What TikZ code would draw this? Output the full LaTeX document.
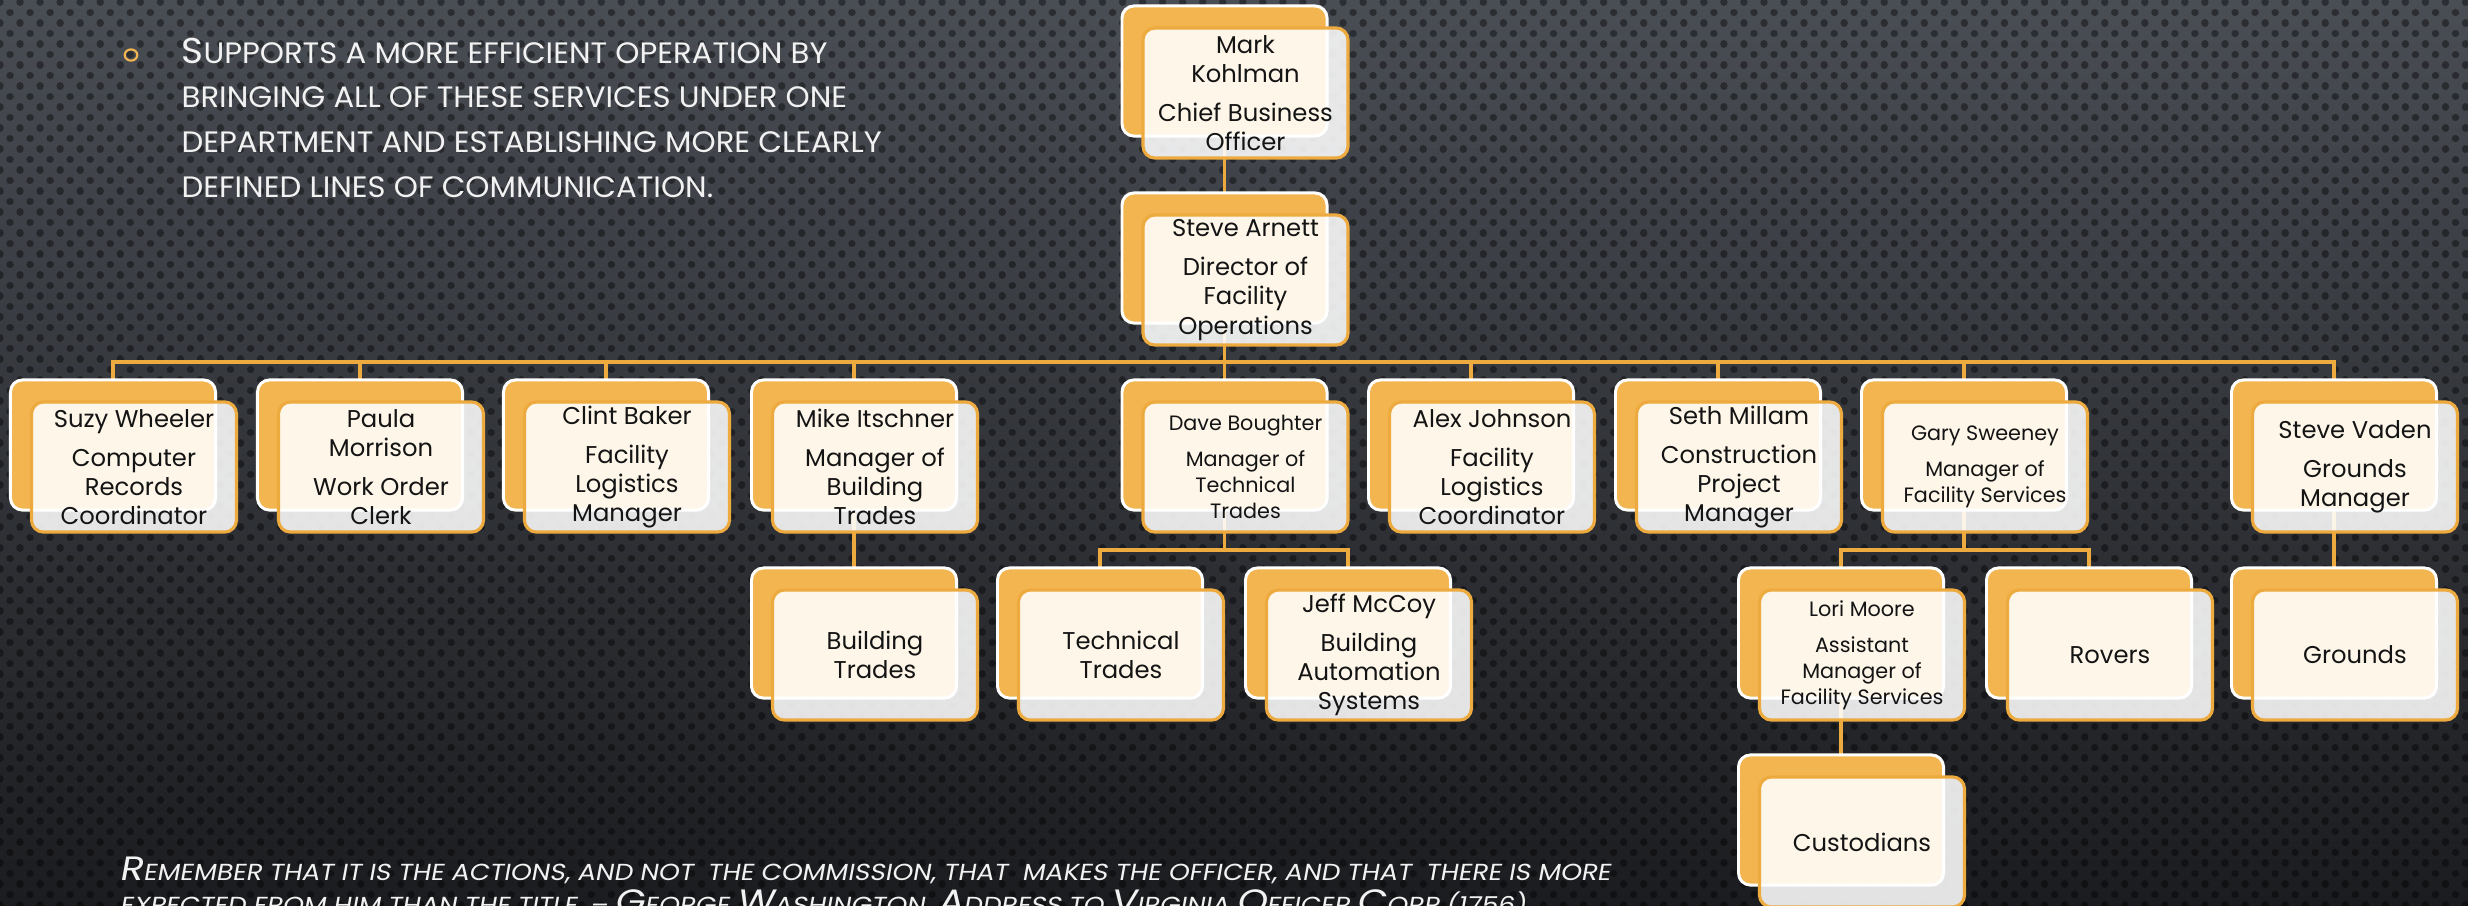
\documentclass[tikz,border=0pt]{standalone}
\usepackage{fontspec}
\setmainfont{Poppins}
\newfontfamily\quotefont[FakeSlant=0.18,FakeStretch=1.14]{Poppins}
\newfontfamily\topfont[FakeStretch=1.04]{Poppins}
\usetikzlibrary{calc,shapes.geometric}
\definecolor{org}{HTML}{F3B54F}
\definecolor{orgline}{HTML}{EDAA3E}
\definecolor{bgtop}{HTML}{494D54}
\definecolor{bgbot}{HTML}{1B1C1F}
\definecolor{txt}{HTML}{141414}
\pgfdeclarelayer{bg}\pgfdeclarelayer{edges}\pgfsetlayers{bg,edges,main}
\newcommand\gp{\\[2.8pt]}
\newcommand\tlB[1]{{\fontsize{10.2pt}{10pt}\selectfont #1}}
\newcommand\qB[1]{{\fontsize{9.6pt}{9pt}\selectfont #1}}
\newcommand\obox[5]{%
  \node[backbox] (#1-b) at (#2,#3) {};
  \node[frontbox,#4] (#1) at (#2+21,#3+22) {#5};
}
\tikzset{
  backbox/.style={draw=white, line width=0.85pt, fill=org, rounded corners=3.4pt,
    minimum width=58.3pt, minimum height=37pt, inner sep=0pt},
  frontbox/.style={draw=orgline, line width=0.9pt, fill=white, fill opacity=0.88,
    text opacity=1, text=txt, rounded corners=3.4pt, align=center,
    minimum width=58.3pt, minimum height=37pt, inner sep=0pt},
  nrm/.style={font=\fontsize{6.9pt}{8.3pt}\selectfont},
  sml/.style={font=\fontsize{5.9pt}{7.4pt}\selectfont},
  conn/.style={draw=orgline, line width=1.1pt},
  dotrow/.style={draw=black, draw opacity=0.4, line width=2.1pt, line cap=round,
    dash pattern=on 0.01pt off 5.69pt},
  toptext/.style={anchor=base west, text=white!95!black, inner sep=0pt,
    font=\topfont\fontsize{8.4pt}{9pt}\selectfont},
  quotetext/.style={anchor=base west, text=white!95!black, inner sep=0pt,
    font=\quotefont\fontsize{6.6pt}{7pt}\selectfont},
}
\begin{document}
\begin{tikzpicture}[x=0.01cm, y=-0.01cm]
\useasboundingbox (0,0) rectangle (2468,905);
\begin{pgfonlayer}{bg}
  \fill[top color=bgtop, bottom color=bgbot] (0,0) rectangle (2468,905);
  \foreach \i in {0,...,87} {
    \pgfmathsetmacro\yy{\i*10.5+2}
    \pgfmathsetmacro\ph{mod(\i,2)*2.845}
    \draw[dotrow, dash phase=\ph pt] (0,\yy) -- (2470,\yy);
  }
\end{pgfonlayer}

% top-left bullet text
\node[ellipse, draw=org, line width=0.6pt, minimum width=3.6pt, minimum height=3.2pt, inner sep=0pt] (bullet) at (131,55) {};
\node[toptext] (t1) at (181,63) {\tlB{S}UPPORTS A MORE EFFICIENT OPERATION BY};
\node[toptext] (t2) at (181,107) {BRINGING ALL OF THESE SERVICES UNDER ONE};
\node[toptext] (t3) at (181,152) {DEPARTMENT AND ESTABLISHING MORE CLEARLY};
\node[toptext] (t4) at (181,197) {DEFINED LINES OF COMMUNICATION.};

% boxes
\obox{mark}{1224.5}{71}{nrm}{Mark\\Kohlman\gp Chief Business\\Officer}
\obox{arnett}{1224.5}{258}{nrm}{Steve Arnett\gp Director of\\Facility\\Operations}
\obox{suzy}{113}{445}{nrm}{Suzy Wheeler\gp Computer\\Records\\Coordinator}
\obox{paula}{360}{445}{nrm}{Paula\\Morrison\gp Work Order\\Clerk}
\obox{clint}{606}{445}{nrm}{Clint Baker\gp Facility\\Logistics\\Manager}
\obox{mike}{854}{445}{nrm}{Mike Itschner\gp Manager of\\Building\\Trades}
\obox{dave}{1224.5}{445}{sml}{Dave Boughter\gp Manager of\\Technical\\Trades}
\obox{alex}{1471}{445}{nrm}{Alex Johnson\gp Facility\\Logistics\\Coordinator}
\obox{seth}{1718}{445}{nrm}{Seth Millam\gp Construction\\Project\\Manager}
\obox{gary}{1964}{445}{sml}{Gary Sweeney\gp Manager of\\Facility Services}
\obox{vaden}{2334}{445}{nrm}{Steve Vaden\gp Grounds\\Manager}
\obox{btrades}{854}{633}{nrm}{Building\\Trades}
\obox{tech}{1100}{633}{nrm}{Technical\\Trades}
\obox{jeff}{1348}{633}{nrm}{Jeff McCoy\gp Building\\Automation\\Systems}
\obox{lori}{1841}{633}{sml}{Lori Moore\gp Assistant\\Manager of\\Facility Services}
\obox{rovers}{2089}{633}{nrm}{Rovers}
\obox{grounds}{2334}{633}{nrm}{Grounds}
\obox{cust}{1841}{820}{nrm}{Custodians}

\coordinate (bar1) at (1224.5,362);
\coordinate (bar2) at (1224.5,550);
\begin{pgfonlayer}{edges}
  \draw[conn] (mark-b.center) -- (arnett-b.center);
  \foreach \c in {suzy,paula,clint,mike,dave,alex,seth,gary,vaden}
    \draw[conn] (arnett-b.center) -- (arnett-b.center |- bar1) -| (\c-b.center);
  \draw[conn] (mike-b.center) -- (btrades-b.center);
  \foreach \c in {tech,jeff}
    \draw[conn] (dave-b.center) -- (dave-b.center |- bar2) -| (\c-b.center);
  \foreach \c in {lori,rovers}
    \draw[conn] (gary-b.center) -- (gary-b.center |- bar2) -| (\c-b.center);
  \draw[conn] (vaden-b.center) -- (grounds-b.center);
  \draw[conn] (lori-b.center) -- (cust-b.center);
\end{pgfonlayer}

% quote
\begin{scope}
\clip (0,0) rectangle (2468,905);
\node[quotetext] (q1) at (119,880) {\qB{R}EMEMBER THAT IT IS THE ACTIONS, AND NOT\ \ THE COMMISSION, THAT\ \ MAKES THE OFFICER, AND THAT\ \ THERE IS MORE};
\node[quotetext] (q2) at (119,913) {EXPECTED FROM HIM THAN THE TITLE. – \qB{G}EORGE \qB{W}ASHINGTON, \qB{A}DDRESS TO \qB{V}IRGINIA \qB{O}FFICER \qB{C}ORP (1756)};
\end{scope}
\end{tikzpicture}
\end{document}
